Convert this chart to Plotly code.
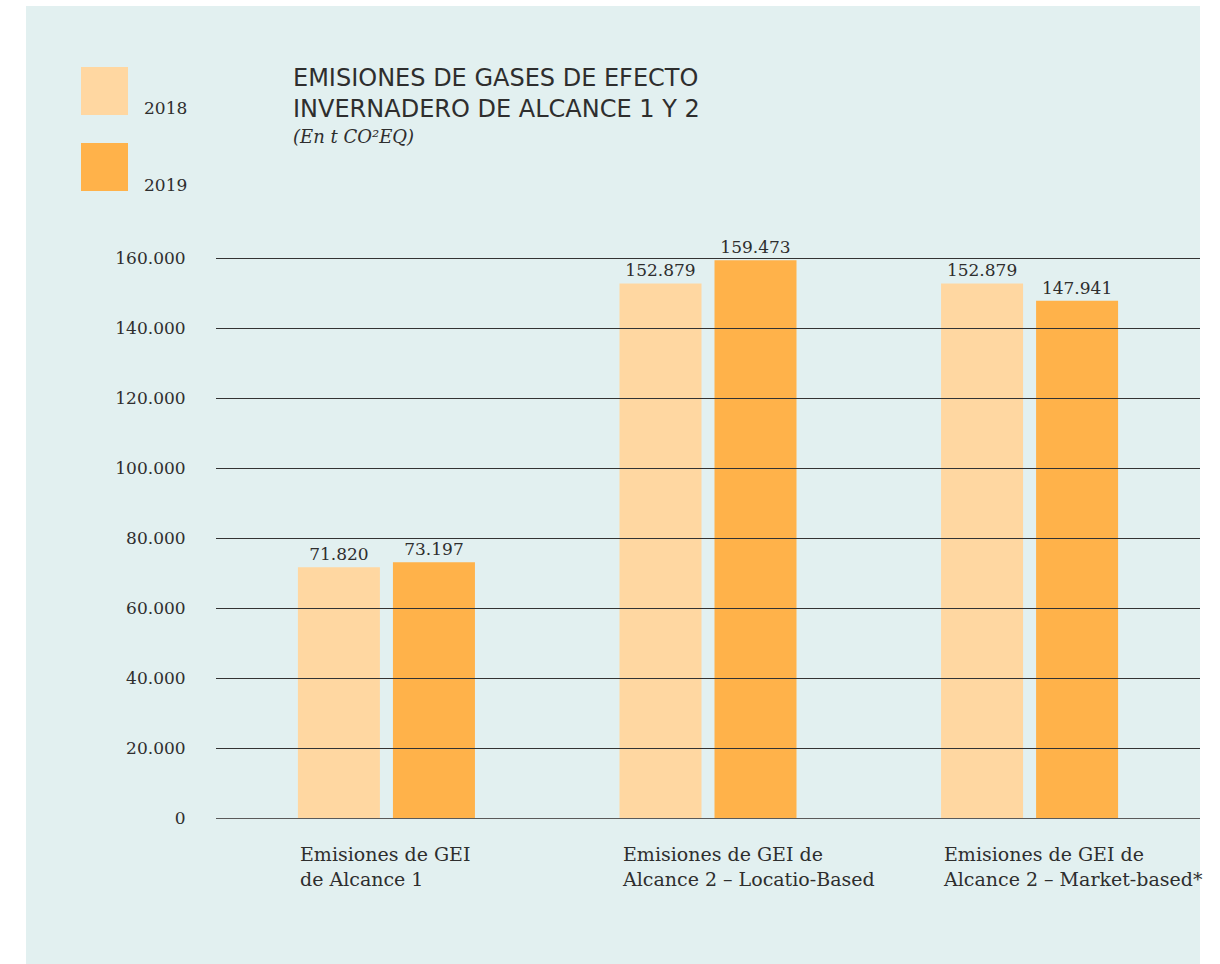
import plotly.graph_objects as go

# Emission data (t CO2eq)
categories = [
    "Emisiones de GEI<br>de Alcance 1",
    "Emisiones de GEI de<br>Alcance 2 – Locatio-Based",
    "Emisiones de GEI de<br>Alcance 2 – Market-based*",
]
years = ["2018", "2019"]
values_2018 = [71820, 152879, 152879]
values_2019 = [73197, 159473, 147941]
y_ticks = [0, 20000, 40000, 60000, 80000, 100000, 120000, 140000, 160000]

colors = {"2018": "#FFD7A1", "2019": "#FFB24A"}
PANEL = "#E2F0F0"
INK = "#2E2E2E"
SERIF = "DejaVu Serif"
SANS = "DejaVu Sans"

# plot-area geometry in pixels (used to place decorations in paper coords)
W, H = 1220, 964
L, R, T, B = 216, 20, 224, 145
PW, PH = W - L - R, H - T - B
# half-pixel offset of the value axis so 1px gridlines render crisp
Y_MAX = 170000
HALF_PX = 0.5 * Y_MAX / PH


def px(x):
    return (x - L) / PW


def py(y):
    return (H - B - y) / PH


fig = go.Figure()
for year, vals in zip(years, [values_2018, values_2019]):
    fig.add_trace(go.Bar(
        x=categories, y=vals, name=year,
        marker=dict(color=colors[year], line=dict(width=0)),
        text=vals, texttemplate="%{y:,d}", textposition="outside",
        textfont=dict(family=SERIF, size=17, color=INK),
        cliponaxis=False, showlegend=False,
    ))

shapes = [
    # background panel
    dict(type="rect", xref="paper", yref="paper", x0=px(26), x1=px(1200),
         y0=py(964), y1=py(6), fillcolor=PANEL, line=dict(width=0), layer="below"),
]
# horizontal gridlines drawn over the bars
for v in y_ticks:
    shapes.append(dict(type="line", xref="paper", yref="y", x0=0, x1=1, y0=v, y1=v,
                       line=dict(color="#333333" if v else "#5A5A5A", width=1), layer="above"))

# legend swatches
for i, year in enumerate(years):
    top = 67 + i * 76
    shapes.append(dict(type="rect", xref="paper", yref="paper", x0=px(81), x1=px(128),
                       y0=py(top + 48), y1=py(top), fillcolor=colors[year],
                       line=dict(width=0), layer="above"))

annotations = []
for i, year in enumerate(years):
    annotations.append(dict(xref="paper", yref="paper", x=px(142), y=py(108 + i * 77),
                            xanchor="left", yanchor="middle", showarrow=False, text=year,
                            font=dict(family=SERIF, size=17, color=INK)))

annotations.append(dict(xref="paper", yref="paper", x=px(291), y=py(62),
                        xanchor="left", yanchor="top", showarrow=False, align="left",
                        text="EMISIONES DE GASES DE EFECTO<br>INVERNADERO DE ALCANCE 1 Y 2",
                        font=dict(family=SANS, size=24, color=INK)))
annotations.append(dict(xref="paper", yref="paper", x=px(291), y=py(124),
                        xanchor="left", yanchor="top", showarrow=False,
                        text="<i>(En t CO²EQ)</i>",
                        font=dict(family=SERIF, size=18, color=INK)))

# category labels, left-aligned with the first bar of each group
for cat in categories:
    annotations.append(dict(xref="x", yref="paper", x=cat, y=py(841), xshift=-88.5,
                            xanchor="left", yanchor="top", showarrow=False, align="left",
                            text=cat, font=dict(family=SERIF, size=19, color=INK)))

fig.update_layout(
    width=W, height=H,
    margin=dict(l=L, r=R, t=T, b=B, pad=0),
    paper_bgcolor="white", plot_bgcolor="rgba(0,0,0,0)",
    barmode="group", bargap=0.409, bargroupgap=0.137,
    separators=",.",
    shapes=shapes, annotations=annotations,
    xaxis=dict(range=[-0.53, 2.53], showticklabels=False, showgrid=False,
               zeroline=False, showline=False, ticks=""),
    yaxis=dict(range=[-HALF_PX, Y_MAX - HALF_PX], tickvals=y_ticks, tickformat=",d",
               showgrid=False, zeroline=False, showline=False,
               ticks="outside", ticklen=26, tickcolor="rgba(0,0,0,0)",
               tickfont=dict(family=SERIF, size=17, color=INK)),
)

fig.write_html("out.html")
